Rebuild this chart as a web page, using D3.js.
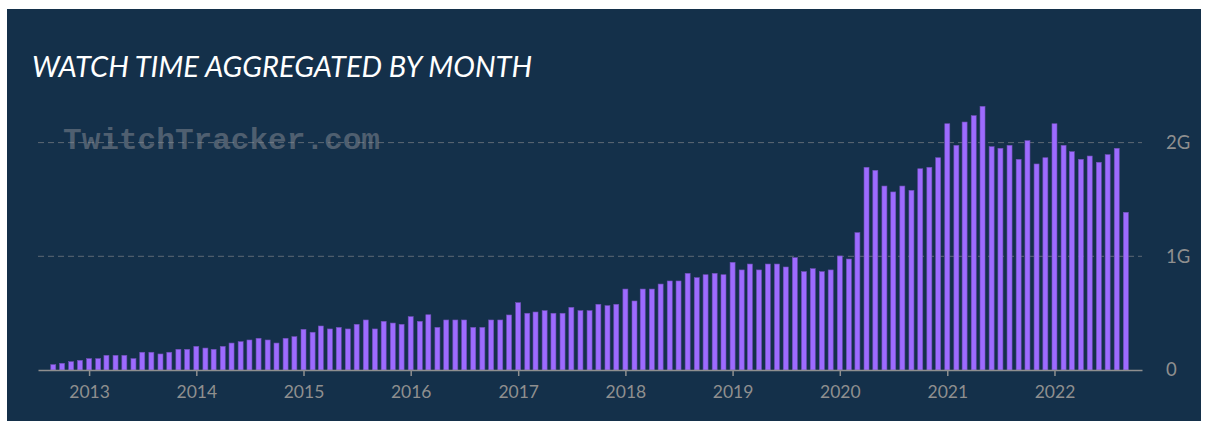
<!DOCTYPE html>
<html>
<head>
<meta charset="utf-8">
<script src="https://cdn.jsdelivr.net/npm/d3@7"></script>
<style>
  body { margin: 0; background: #fff; }
  svg { display: block; }
</style>
</head>
<body>
<script>
const width = 1209;
const height = 426;

// watch time per month, in billions of hours (G)
// 2012 starts in September, 2022 stops in September
const years = [2012, 2013, 2014, 2015, 2016, 2017, 2018, 2019, 2020, 2021, 2022];
const firstMonth2012 = 8;
const watch2012 = [0.047, 0.059, 0.073, 0.085];
const watch2013 = [0.10, 0.10, 0.129, 0.129, 0.129, 0.10, 0.156, 0.156, 0.141, 0.156, 0.182, 0.182];
const watch2014 = [0.208, 0.193, 0.182, 0.208, 0.237, 0.249, 0.264, 0.279, 0.264, 0.237, 0.279, 0.293];
const watch2015 = [0.358, 0.332, 0.387, 0.361, 0.375, 0.361, 0.402, 0.44, 0.361, 0.428, 0.413, 0.402];
const watch2016 = [0.469, 0.428, 0.486, 0.375, 0.44, 0.44, 0.44, 0.375, 0.375, 0.44, 0.44, 0.484];
const watch2017 = [0.592, 0.499, 0.51, 0.522, 0.499, 0.499, 0.551, 0.522, 0.522, 0.578, 0.566, 0.578];
const watch2018 = [0.712, 0.607, 0.712, 0.712, 0.756, 0.783, 0.783, 0.85, 0.812, 0.838, 0.85, 0.838];
const watch2019 = [0.947, 0.88, 0.932, 0.88, 0.932, 0.932, 0.906, 0.988, 0.865, 0.891, 0.865, 0.88];
const watch2020 = [1.003, 0.976, 1.208, 1.783, 1.756, 1.618, 1.566, 1.618, 1.58, 1.77, 1.783, 1.867];
const watch2021 = [2.166, 1.976, 2.181, 2.237, 2.319, 1.964, 1.95, 1.976, 1.853, 2.017, 1.812, 1.867];
const watch2022 = [2.166, 1.976, 1.92, 1.853, 1.882, 1.827, 1.894, 1.95, 1.387];
const yTickValues = [0, 1, 2];
const yTickLabels = ["0", "1G", "2G"];

const perYear = [watch2012, watch2013, watch2014, watch2015, watch2016, watch2017,
  watch2018, watch2019, watch2020, watch2021, watch2022];

var data = [];
perYear.forEach(function(vals, i) {
  var m0 = i === 0 ? firstMonth2012 : 0;
  vals.forEach(function(v, j) {
    data.push({ date: new Date(years[i], m0 + j, 1), value: v });
  });
});

var svg = d3.select("body")
  .append("svg")
  .attr("width", width)
  .attr("height", height);

// dark panel
svg.append("rect")
  .attr("x", 7).attr("y", 9)
  .attr("width", 1194).attr("height", 412)
  .attr("fill", "#14304a");

// title
svg.append("text")
  .attr("x", 32).attr("y", 77)
  .attr("fill", "#ffffff")
  .style("font-family", "Lato, sans-serif")
  .style("font-style", "italic")
  .style("font-size", "29px")
  .attr("textLength", 500)
  .attr("lengthAdjust", "spacingAndGlyphs")
  .text("WATCH TIME AGGREGATED BY MONTH");

// scales
var x = d3.scaleTime()
  .domain([new Date(2012, 6, 11), new Date(2022, 9, 26)])
  .range([38, 1142]);

var y = d3.scaleLinear()
  .domain([0, 2.5])
  .range([370, 370 - 2.5 * 113.7]);

// gridlines
svg.append("g")
  .selectAll("line")
  .data(yTickValues.filter(d => d > 0))
  .join("line")
  .attr("x1", 38).attr("x2", 1142)
  .attr("y1", d => y(d)).attr("y2", d => y(d))
  .attr("stroke", "#5d6873")
  .attr("stroke-width", 1)
  .attr("stroke-dasharray", "6,4");

// watermark
svg.append("text")
  .attr("x", 63).attr("y", 149)
  .attr("fill", "#8a8f96")
  .attr("fill-opacity", 0.5)
  .style("font-family", "'Liberation Mono', 'Courier New', monospace")
  .style("font-weight", "bold")
  .style("font-size", "30px")
  .attr("textLength", 317)
  .attr("lengthAdjust", "spacingAndGlyphs")
  .text("TwitchTracker.com");

// bars
var barW = 5;
svg.append("g")
  .selectAll("rect")
  .data(data)
  .join("rect")
  .attr("x", d => x(d.date) - barW / 2)
  .attr("y", d => y(d.value))
  .attr("width", barW)
  .attr("height", d => y(0) - y(d.value))
  .attr("fill", "#9d6bff")
  .attr("stroke", "#7150b8")
  .attr("stroke-width", 0.6);

// x axis
var x_axis = d3.axisBottom(x)
  .ticks(d3.timeYear.every(1))
  .tickFormat(d3.timeFormat("%Y"))
  .tickSize(6)
  .tickSizeOuter(0);

var gx = svg.append("g")
  .attr("transform", "translate(0, 370)")
  .call(x_axis);

gx.select(".domain").attr("stroke", "#8f8f8f").attr("stroke-width", 1.5);
gx.selectAll(".tick line").attr("stroke", "#8f8f8f").attr("stroke-width", 1.5);
gx.selectAll(".tick text")
  .attr("y", 16)
  .attr("fill", "#8f8f8f")
  .style("font-family", "Lato, sans-serif")
  .style("font-size", "17.5px");

// y axis (labels only)
var y_axis = d3.axisRight(y)
  .tickValues(yTickValues)
  .tickFormat((d, i) => yTickLabels[i])
  .tickSize(0);

var gy = svg.append("g")
  .attr("transform", "translate(1166, 0)")
  .call(y_axis);

gy.select(".domain").remove();
gy.selectAll(".tick text")
  .attr("x", 0)
  .attr("fill", "#8f8f8f")
  .style("font-family", "Lato, sans-serif")
  .style("font-size", "18.5px");
</script>
</body>
</html>
